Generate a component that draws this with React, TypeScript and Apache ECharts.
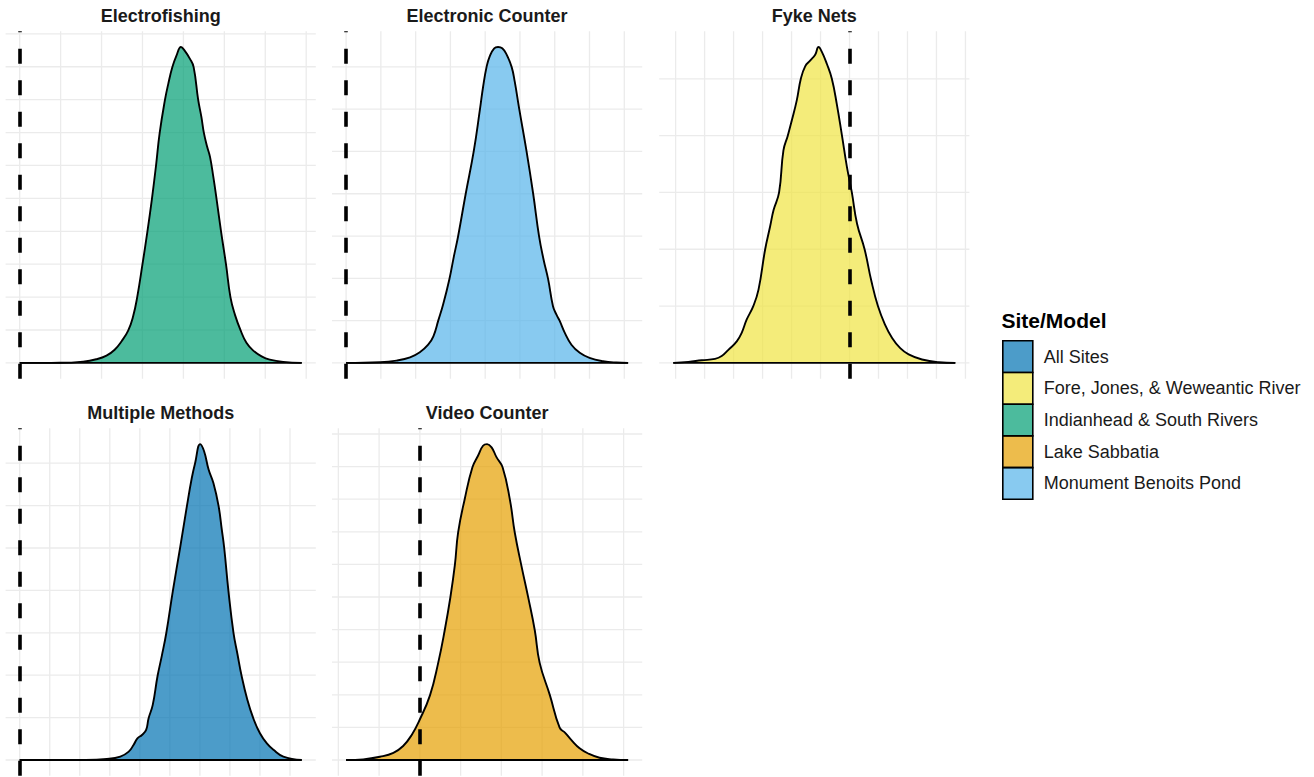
import React, { useEffect, useRef } from "react";
import * as echarts from "echarts";

const FONT = '"Liberation Sans", Arial, Helvetica, sans-serif';

// Legend entries (site / model) and their Okabe-Ito fills
const SITES = [
  "All Sites",
  "Fore, Jones, & Weweantic River",
  "Indianhead & South Rivers",
  "Lake Sabbatia",
  "Monument Benoits Pond",
];
const SITE_COLORS = ["#0072B2", "#F0E442", "#009E73", "#E69F00", "#56B4E9"];
const FILL_ALPHA = 0.7;

// Facet titles and the site each facet belongs to
const PANEL_TITLES = ["Electrofishing", "Electronic Counter", "Fyke Nets", "Multiple Methods", "Video Counter"];
const PANEL_SITE = [2, 4, 1, 0, 3];

// Reference value drawn as a dashed vertical line in each facet
const REFERENCE_LINES = [0, 0, 6, 0, 2];

// Posterior density curves
const electrofishingX = [0, 0.98, 1.55, 1.87, 2.12, 2.32, 2.49, 2.65, 2.77, 2.87, 3.0, 3.12, 3.23, 3.33, 3.42, 3.55, 3.63, 3.73, 3.83, 3.94, 4.03, 4.16, 4.25, 4.36, 4.44, 4.5, 4.58, 4.65, 4.73, 4.81, 4.92, 5.04, 5.15, 5.26, 5.4, 5.54, 5.7, 5.91, 6.11, 6.44, 6.89];
const electrofishingY = [0, 0.003, 0.04, 0.11, 0.22, 0.4, 0.66, 0.98, 1.41, 1.99, 3.0, 3.99, 4.98, 5.99, 6.99, 8.0, 8.48, 8.99, 9.34, 9.6, 9.49, 9.24, 8.99, 8.0, 7.47, 6.99, 6.57, 6.26, 5.66, 4.98, 3.99, 3.0, 1.99, 1.46, 0.98, 0.61, 0.38, 0.2, 0.1, 0.03, 0];

const electronicCounterX = [0, 0.98, 1.45, 1.84, 2.12, 2.36, 2.51, 2.65, 2.79, 2.97, 3.1, 3.22, 3.44, 3.67, 3.85, 3.94, 4.04, 4.13, 4.26, 4.37, 4.49, 4.61, 4.76, 4.85, 4.98, 5.19, 5.38, 5.55, 5.68, 5.81, 5.95, 6.05, 6.14, 6.29, 6.48, 6.72, 7.0, 7.39, 7.77, 8.11];
const electronicCounterY = [0, 0.016, 0.055, 0.13, 0.25, 0.43, 0.63, 1.0, 1.38, 1.98, 2.52, 2.99, 4.0, 5.0, 6.0, 6.53, 7.0, 7.25, 7.44, 7.47, 7.44, 7.3, 7.0, 6.65, 6.0, 5.0, 4.0, 2.99, 2.44, 1.98, 1.34, 1.14, 1.0, 0.71, 0.43, 0.24, 0.12, 0.04, 0.008, 0];

const fykeNetsX = [-0.08, 0.44, 0.9, 1.36, 1.59, 1.82, 2.11, 2.28, 2.45, 2.68, 2.86, 3.09, 3.26, 3.38, 3.57, 3.72, 3.87, 4.01, 4.18, 4.32, 4.47, 4.64, 4.82, 4.93, 5.05, 5.22, 5.39, 5.56, 5.74, 5.91, 6.08, 6.26, 6.52, 6.75, 6.98, 7.22, 7.47, 7.75, 8.04, 8.5, 9.08, 9.65];
const fykeNetsY = [0, 0.018, 0.047, 0.07, 0.12, 0.23, 0.38, 0.53, 0.76, 1.0, 1.29, 2.0, 2.4, 2.69, 3.0, 3.74, 4.0, 4.27, 4.62, 5.0, 5.22, 5.32, 5.43, 5.56, 5.47, 5.26, 5.0, 4.56, 4.0, 3.45, 3.0, 2.45, 2.0, 1.45, 1.0, 0.68, 0.44, 0.26, 0.15, 0.06, 0.012, 0];

const multipleMethodsX = [0, 2.13, 2.9, 3.35, 3.63, 3.79, 3.92, 4.07, 4.21, 4.29, 4.43, 4.59, 4.73, 4.88, 5.1, 5.34, 5.57, 5.73, 5.84, 6.01, 6.14, 6.29, 6.45, 6.62, 6.73, 6.81, 6.95, 7.12, 7.25, 7.39, 7.58, 7.78, 8.0, 8.23, 8.45, 8.78, 9.39];
const multipleMethodsY = [0, 0.003, 0.024, 0.079, 0.197, 0.354, 0.51, 0.59, 0.71, 0.98, 1.3, 1.98, 2.45, 2.99, 3.99, 5.0, 6.0, 6.65, 7.0, 7.45, 7.28, 6.85, 6.53, 6.0, 5.43, 5.0, 3.99, 2.99, 2.5, 1.98, 1.42, 0.98, 0.63, 0.39, 0.24, 0.08, 0];

const videoCounterX = [0.19, 0.61, 1.02, 1.35, 1.59, 1.8, 1.99, 2.25, 2.45, 2.61, 2.75, 2.86, 2.94, 3.1, 3.29, 3.43, 3.55, 3.65, 3.76, 3.88, 4.03, 4.21, 4.33, 4.49, 4.66, 4.82, 4.94, 5.19, 5.43, 5.56, 5.72, 5.92, 6.13, 6.41, 6.74, 7.11];
const videoCounterY = [0, 0.02, 0.1, 0.22, 0.43, 0.77, 1.22, 1.99, 2.98, 3.98, 5.0, 5.99, 6.99, 8.0, 8.98, 9.34, 9.64, 9.69, 9.59, 9.29, 8.98, 7.98, 6.97, 5.97, 4.98, 3.98, 2.98, 1.99, 0.99, 0.84, 0.61, 0.36, 0.2, 0.07, 0.02, 0];

// Grid breaks of each facet
const X_BREAKS = [
  [0, 1, 2, 3, 4, 5, 6, 7],
  [0, 1, 2, 3, 4, 5, 6, 7, 8],
  [0, 1, 2, 3, 4, 5, 6, 7, 8, 9, 10],
  [0, 1, 2, 3, 4, 5, 6, 7, 8, 9],
  [0, 1, 2, 3, 4, 5, 6, 7],
];
const Y_BREAKS = [
  [0, 1, 2, 3, 4, 5, 6, 7, 8, 9, 10],
  [0, 1, 2, 3, 4, 5, 6, 7],
  [0, 1, 2, 3, 4, 5],
  [0, 1, 2, 3, 4, 5, 6, 7],
  [0, 1, 2, 3, 4, 5, 6, 7, 8, 9, 10],
];

const CURVES_X = [electrofishingX, electronicCounterX, fykeNetsX, multipleMethodsX, videoCounterX];
const CURVES_Y = [electrofishingY, electronicCounterY, fykeNetsY, multipleMethodsY, videoCounterY];

// Facet layout (pixels)
const COL_LEFT = [5.6, 332, 659.2];
const ROW_TOP = [31.2, 428.3];
const PANEL_W = 310.2;
const PANEL_H = 347.5;
const GRID_COLOR = "#ebebeb";
const OUTLINE_W = 1.9;

function rgba(hex: string, a: number) {
  const n = parseInt(hex.slice(1), 16);
  return `rgba(${(n >> 16) & 255},${(n >> 8) & 255},${n & 255},${a})`;
}

function buildOption() {
  const grid: any[] = [];
  const xAxis: any[] = [];
  const yAxis: any[] = [];
  const series: any[] = [];
  const graphic: any[] = [];

  PANEL_TITLES.forEach((title, i) => {
    const col = i % 3;
    const row = Math.floor(i / 3);
    const xs = CURVES_X[i];
    const ys = CURVES_Y[i];
    const ref = REFERENCE_LINES[i];
    const lo = Math.min(xs[0], ref);
    const hi = Math.max(xs[xs.length - 1], ref);
    const padX = 0.05 * (hi - lo);
    const peak = Math.max(...ys);
    const site = PANEL_SITE[i];

    grid.push({ left: COL_LEFT[col], top: ROW_TOP[row], width: PANEL_W, height: PANEL_H });
    xAxis.push({ type: "value", gridIndex: i, min: lo - padX, max: hi + padX, show: false });
    yAxis.push({ type: "value", gridIndex: i, min: -0.05 * peak, max: 1.05 * peak, show: false });

    // panel grid lines
    const gridData = [
      ...X_BREAKS[i].map((v) => [v, 0]),
      ...Y_BREAKS[i].map((v) => [v, 1]),
    ];
    series.push({
      type: "custom",
      xAxisIndex: i,
      yAxisIndex: i,
      silent: true,
      z: 1,
      data: gridData,
      renderItem: (params: any, api: any) => {
        const v = api.value(0);
        const kind = api.value(1);
        const cs = params.coordSys;
        if (kind === 0) {
          const px = api.coord([v, 0])[0];
          return {
            type: "line",
            shape: { x1: px, y1: cs.y, x2: px, y2: cs.y + cs.height },
            style: { stroke: GRID_COLOR, lineWidth: 1.3 },
          };
        }
        const py = api.coord([lo, v])[1];
        return {
          type: "line",
          shape: { x1: cs.x, y1: py, x2: cs.x + cs.width, y2: py },
          style: { stroke: GRID_COLOR, lineWidth: 1.3 },
        };
      },
    });

    // density area
    series.push({
      type: "line",
      name: SITES[site],
      xAxisIndex: i,
      yAxisIndex: i,
      data: xs.map((x, k) => [x, ys[k]]),
      showSymbol: false,
      symbol: "none",
      smooth: 0.45,
      silent: true,
      z: 2,
      lineStyle: { color: "#000", width: OUTLINE_W, join: "round" },
      itemStyle: { color: rgba(SITE_COLORS[site], FILL_ALPHA) },
      areaStyle: { color: rgba(SITE_COLORS[site], FILL_ALPHA), opacity: 1 },
      emphasis: { disabled: true },
      markLine: {
        silent: true,
        symbol: ["none", "none"],
        label: { show: false },
        emphasis: { disabled: true },
        lineStyle: { color: "#000", width: 3.6, type: [15, 16.5] },
        data: [{ xAxis: ref }],
      },
    });

    // density outline along the baseline
    series.push({
      type: "line",
      xAxisIndex: i,
      yAxisIndex: i,
      data: [
        [xs[0], 0],
        [xs[xs.length - 1], 0],
      ],
      showSymbol: false,
      symbol: "none",
      silent: true,
      z: 3,
      lineStyle: { color: "#000", width: OUTLINE_W },
      emphasis: { disabled: true },
    });

    graphic.push({
      type: "text",
      x: COL_LEFT[col] + PANEL_W / 2,
      y: row === 0 ? 16 : 412.5,
      silent: true,
      style: {
        text: title,
        font: `bold 18px ${FONT}`,
        fill: "#1a1a1a",
        align: "center",
        verticalAlign: "middle",
        textAlign: "center",
        textVerticalAlign: "middle",
      },
    });
  });

  graphic.push({
    type: "text",
    x: 1001.5,
    y: 320.5,
    silent: true,
    style: {
      text: "Site/Model",
      font: `bold 21px ${FONT}`,
      fill: "#000",
      align: "left",
      verticalAlign: "middle",
      textAlign: "left",
      textVerticalAlign: "middle",
    },
  });

  return {
    animation: false,
    backgroundColor: "#ffffff",
    grid,
    xAxis,
    yAxis,
    series,
    graphic,
    legend: {
      orient: "vertical",
      left: 1002,
      top: 340,
      padding: 0,
      itemWidth: 30,
      itemHeight: 31.7,
      itemGap: -1.6,
      selectedMode: false,
      textStyle: { fontSize: 18, color: "#1a1a1a", fontFamily: FONT, padding: [0, 0, 0, 6] },
      data: SITES.map((s, i) => ({
        name: s,
        icon: "rect",
        itemStyle: { color: rgba(SITE_COLORS[i], FILL_ALPHA), borderColor: "#000", borderWidth: 1.6 },
      })),
    },
  };
}

export default function App() {
  const ref = useRef<HTMLDivElement>(null);
  useEffect(() => {
    if (!ref.current) return;
    const chart = echarts.init(ref.current, undefined, { renderer: "svg" });
    chart.setOption(buildOption() as any);
    return () => chart.dispose();
  }, []);
  return (
    <div
      ref={ref}
      style={{ position: "absolute", left: 0, top: 0, width: 1314, height: 777, background: "#fff" }}
    />
  );
}
